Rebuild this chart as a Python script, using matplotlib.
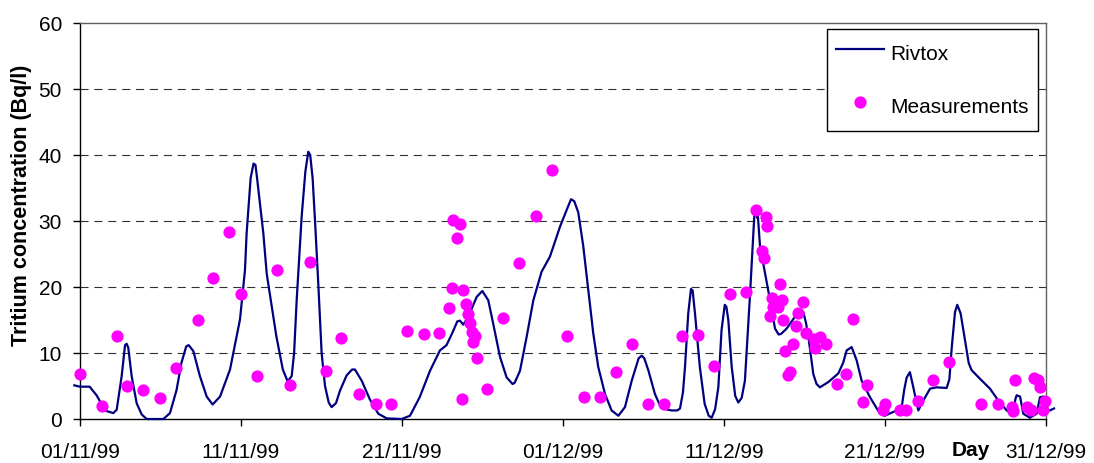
import matplotlib.pyplot as plt

plt.rcParams['font.family'] = ['Liberation Sans', 'DejaVu Sans']
plt.rcParams['lines.scale_dashes'] = False

# Rivtox simulation: days since 01/11/99 and tritium concentration (Bq/l)
rivtox_day = [-0.35, 0.0, 0.6, 1.03, 1.4, 1.66, 2.07, 2.28, 2.59, 2.8, 2.9, 3.0, 3.21, 3.52, 3.83, 4.14,
              5.18, 5.59, 6.0, 6.3, 6.6, 6.75, 7.04, 7.45, 7.87, 8.24, 8.7, 9.32, 9.94, 10.25, 10.35,
              10.6, 10.78, 10.9, 11.0, 11.39, 11.6, 12.2, 12.6, 12.9, 13.15, 13.3, 13.46, 13.77, 14.0,
              14.18, 14.3, 14.45, 14.6, 14.8, 15.01, 15.22, 15.45, 15.63, 15.9, 16.15, 16.56, 16.9,
              17.08, 17.5, 18.0, 18.53, 19.05, 19.98, 20.5, 21.1, 21.74, 22.36, 22.77, 23.1, 23.44,
              23.6, 23.81, 24.12, 24.64, 24.99, 25.36, 25.67, 26.09, 26.5, 26.87, 27.0, 27.33, 27.74,
              28.16, 28.67, 29.19, 29.81, 30.2, 30.5, 30.7, 30.95, 31.26, 31.57, 31.88, 32.19, 32.61,
              33.02, 33.44, 33.85, 34.27, 34.7, 34.89, 35.05, 35.3, 35.71, 36.0, 36.34, 36.75, 37.1,
              37.27, 37.45, 37.58, 37.78, 37.95, 38.05, 38.2, 38.5, 38.8, 39.05, 39.24, 39.45, 39.65,
              39.85, 40.05, 40.15, 40.27, 40.48, 40.7, 40.89, 41.1, 41.3, 41.61, 41.8, 41.9, 41.97,
              42.05, 42.1, 42.24, 42.55, 42.86, 43.17, 43.4, 43.55, 43.89, 44.41, 44.7, 44.93, 45.1,
              45.24, 45.55, 45.75, 45.96, 46.48, 47.1, 47.4, 47.62, 47.93, 48.24, 48.55, 49.07, 49.69,
              50.0, 50.72, 51.04, 51.2, 51.35, 51.55, 51.76, 52.07, 52.38, 52.8, 53.21, 53.83, 54.0,
              54.15, 54.35, 54.49, 54.7, 54.97, 55.2, 55.38, 55.9, 56.52, 57.04, 57.56, 57.97, 58.1,
              58.18, 58.39, 58.59, 59.0, 59.42, 59.63, 59.83, 60.04, 60.25, 60.5]
rivtox_conc = [5.1, 4.9, 4.9, 3.6, 2.0, 1.2, 0.9, 1.4, 6.5, 11.2, 11.4, 10.8, 6.5, 2.4, 0.7, 0.0,
               0.0, 0.9, 4.4, 8.5, 11.0, 11.2, 10.3, 6.5, 3.4, 2.2, 3.4, 7.5, 15.1, 22.6, 28.1,
               36.5, 38.7, 38.5, 36.5, 28.1, 22.0, 12.5, 7.5, 5.7, 6.5, 10.0, 18.0, 30.7, 37.5,
               40.5, 40.0, 36.5, 30.0, 20.6, 10.0, 5.0, 2.5, 1.8, 2.4, 4.3, 6.6, 7.5,
               7.5, 5.8, 3.0, 0.8, 0.1, 0.0, 0.5, 3.3, 7.3, 10.4, 11.2, 12.9, 14.8,
               14.9, 14.3, 15.5, 18.5, 19.4, 18.0, 14.4, 9.4, 6.3, 5.3, 5.5, 7.3, 12.4,
               18.0, 22.3, 24.6, 29.1, 31.5, 33.3, 33.0, 31.3, 26.2, 19.6, 13.0, 7.9, 3.8,
               1.3, 0.5, 1.8, 5.8, 9.2, 9.6, 9.2, 7.4, 3.8, 2.2, 1.5, 1.3, 1.3,
               1.6, 4.0, 7.9, 16.0, 19.7, 19.5, 16.0, 7.9, 2.3, 0.5, 0.2, 1.5, 4.8,
               13.5, 17.3, 17.0, 15.0, 7.9, 3.5, 2.5, 3.2, 5.8, 18.5, 27.0, 31.5, 32.0,
               30.5, 31.0, 26.1, 22.1, 18.0, 13.7, 12.8, 12.9, 13.7, 15.5, 15.8, 16.2, 14.5,
               12.5, 6.8, 5.3, 4.8, 5.6, 6.9, 8.5, 10.4, 10.9, 8.9, 5.8, 3.3, 0.8,
               0.5, 1.3, 1.8, 4.5, 6.3, 7.1, 4.8, 1.3, 2.8, 4.6, 4.8, 4.7, 6.0,
               10.9, 16.2, 17.3, 16.0, 11.9, 8.5, 7.4, 6.1, 4.6, 2.8, 1.3, 0.8, 3.0,
               3.6, 3.4, 0.8, 0.2, 0.8, 3.3, 3.4, 1.3, 1.3, 1.6]

# Sampled concentrations
meas_day = [0.0, 1.35, 2.32, 2.94, 3.93, 4.95, 5.94, 7.31, 8.28, 9.28, 10.02, 11.01, 12.25, 13.02,
            14.26, 15.26, 16.23, 17.35, 18.36, 19.34, 20.33, 21.35, 22.32, 22.94, 23.09, 23.19,
            23.44, 23.6, 23.71, 23.81, 23.95, 24.08, 24.22, 24.33, 24.43, 24.53, 24.68, 25.3,
            26.29, 27.29, 28.3, 29.3, 30.23, 31.28, 32.28, 33.27, 34.27, 35.26, 36.25, 37.37,
            38.37, 39.36, 40.35, 41.35, 41.97, 42.34, 42.48, 42.59, 42.7, 42.86, 42.96, 43.06,
            43.37, 43.48, 43.58, 43.68, 43.79, 43.99, 44.1, 44.31, 44.45, 44.58, 44.93, 45.07,
            45.58, 45.68, 45.96, 46.31, 47.04, 47.56, 48.03, 48.65, 48.86, 49.86, 50.0, 50.93,
            51.3, 52.03, 53.0, 53.99, 55.99, 57.0, 57.87, 57.97, 58.1, 58.84, 59.05, 59.26,
            59.52, 59.6, 59.83, 59.94]
meas_conc = [6.8, 2.0, 12.6, 5.0, 4.4, 3.2, 7.7, 15.0, 21.4, 28.4, 18.9, 6.5, 22.6, 5.1,
             23.8, 7.2, 12.3, 3.8, 2.2, 2.2, 13.4, 12.9, 13.1, 16.8, 19.9, 30.2,
             27.4, 29.5, 3.1, 19.5, 17.4, 15.9, 14.6, 13.2, 11.6, 12.6, 9.2, 4.6,
             15.3, 23.7, 30.8, 37.8, 12.6, 3.4, 3.4, 7.1, 11.3, 2.2, 2.2, 12.6,
             12.8, 8.0, 18.9, 19.2, 31.7, 25.4, 24.4, 30.6, 29.2, 15.6, 18.4, 17.0,
             16.9, 20.5, 18.0, 15.0, 10.3, 6.6, 7.1, 11.3, 14.1, 16.1, 17.7, 13.1,
             12.1, 10.8, 12.5, 11.4, 5.3, 6.8, 15.1, 2.6, 5.1, 1.4, 2.2, 1.3,
             1.3, 2.8, 5.9, 8.7, 2.2, 2.2, 1.8, 1.2, 5.9, 1.8, 1.3, 6.2,
             5.9, 4.9, 1.4, 2.8]

tick_days = [0, 10, 20, 30, 40, 50, 60]
tick_labels = ['01/11/99', '11/11/99', '21/11/99', '01/12/99', '11/12/99', '21/12/99', '31/12/99']
y_ticks = [0, 10, 20, 30, 40, 50, 60]

fig = plt.figure(figsize=(10.94, 4.63), dpi=100)
ax = fig.add_axes([0.0731, 0.0950, 0.8830, 0.8553])

for y in y_ticks[1:-1]:
    ax.axhline(y, color='#303030', lw=0.8, dashes=(5.8, 4.2), zorder=1)

ax.plot(rivtox_day, rivtox_conc, color='#000080', lw=1.6, label='Rivtox',
        clip_on=False, zorder=3)
ax.plot(meas_day, meas_conc, 'o', color='#FF00FF', ms=8.8, mec='none',
        label='Measurements', clip_on=False, zorder=4)

ax.set_xlim(0, 60)
ax.set_ylim(0, 60)
ax.set_xticks(tick_days)
ax.set_xticklabels(tick_labels)
ax.set_yticks(y_ticks)
ax.tick_params(labelsize=15, length=5, width=1, direction='out', pad=8)
ax.tick_params(axis='x', pad=12)

for side in ['left', 'bottom']:
    ax.spines[side].set_color('black')
    ax.spines[side].set_linewidth(1.0)
for side in ['top', 'right']:
    ax.spines[side].set_color('#606060')
    ax.spines[side].set_linewidth(1.0)

ax.set_ylabel('Tritium concentration (Bq/l)', fontsize=15.5, fontweight='bold')
ax.yaxis.set_label_coords(-0.05, 0.54)

ax.text(55.3, -0.0934, 'Day', transform=ax.get_xaxis_transform(), ha='center',
        va='baseline', fontsize=15, fontweight='bold')

leg = ax.legend(loc='upper right', bbox_to_anchor=(1038 / 1094, 1 - 29 / 463),
                bbox_transform=fig.transFigure, borderaxespad=0, fontsize=15,
                fancybox=False, framealpha=1, edgecolor='black', handlelength=2.3,
                handleheight=1.9, labelspacing=1.05, borderpad=0.45, handletextpad=0.3)
leg.get_frame().set_linewidth(1.0)

fig.savefig('out.png', dpi=100)
